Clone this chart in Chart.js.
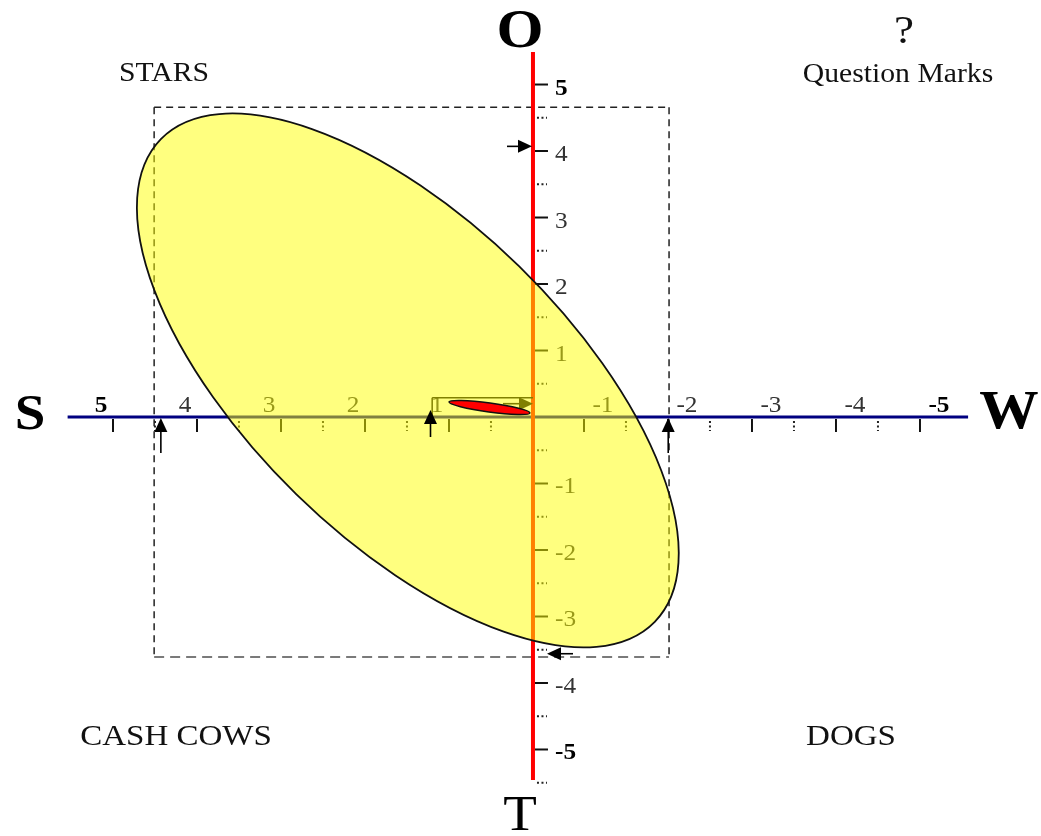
<!DOCTYPE html>
<html><head><meta charset="utf-8">
<script src="https://cdn.jsdelivr.net/npm/chart.js@4"></script>
<style>html,body{margin:0;padding:0;background:#fff;overflow:hidden}canvas{display:block}</style>
</head><body>
<canvas id="c" width="1041" height="836"></canvas>
<script>
// ---- data ----
const xTickValues = [5, 4, 3, 2, 1, -1, -2, -3, -4, -5];
const xTickLabels = ['5', '4', '3', '2', '1', '-1', '-2', '-3', '-4', '-5'];
const xMinorValues = [4.5, 3.5, 2.5, 1.5, 0.5, -1.5, -2.5, -3.5, -4.5];
const yTickValues = [5, 4, 3, 2, 1, -1, -2, -3, -4, -5];
const yTickLabels = ['5', '4', '3', '2', '1', '-1', '-2', '-3', '-4', '-5'];
const yMinorValues = [4.5, 3.5, 2.5, 1.5, 0.5, -0.5, -1.5, -2.5, -3.5, -4.5, -5.5];
const xAxisExtent = [5.54, -5.18];
const yAxisExtent = [5.49, -5.46];
const axisEndLabels = ['O', 'T', 'S', 'W'];
const quadrantLabels = ['STARS', 'Question Marks', 'CASH COWS', 'DOGS'];
const questionMark = '?';
const bigEllipseCenter = [1.49, 0.55];
const bigEllipseMajorEnd = [4.43, 4.18];
const bigEllipseMinorEnd = [0.16, 2.26];
const smallEllipseCenter = [0.518, 0.143];
const smallEllipseMajorEnd = [0.036, 0.06];
const smallEllipseMinorEnd = [0.51, 0.21];
const bigBoxX = [4.51, -1.62];
const bigBoxY = [4.66, -3.61];
const smallBoxX = [1.2, 0];
const smallBoxY = [0.29, 0];
const upArrowX = [4.43, -1.61];
const sideArrowY = [4.07, -3.56];
const smallUpArrowX = [1.22];
const smallSideArrowY = [0.2];

const FONT = '"Liberation Serif", "Times New Roman", serif';

const drawPlugin = {
  id: 'bcg',
  afterDraw(chart) {
    const ctx = chart.ctx;
    const sx = chart.scales.x, sy = chart.scales.y;
    const X = v => sx.getPixelForValue(v);
    const Y = v => sy.getPixelForValue(v);
    const x0 = X(0), y0 = Y(0);
    const negShift = -33; // tick marks on the W side sit left of their labels

    function txt(s, x, y, size, bold, color, align) {
      ctx.save();
      ctx.font = (bold ? 'bold ' : '') + size + 'px ' + FONT;
      ctx.fillStyle = color;
      ctx.textAlign = align || 'center';
      ctx.textBaseline = 'alphabetic';
      ctx.translate(x, y);
      ctx.scale(1.1, 1);
      ctx.fillText(s, 0, 0);
      ctx.restore();
    }
    function line(x1, y1, x2, y2, color, w, dash) {
      ctx.save();
      ctx.beginPath();
      ctx.strokeStyle = color; ctx.lineWidth = w;
      ctx.setLineDash(dash || []);
      ctx.moveTo(x1, y1); ctx.lineTo(x2, y2);
      ctx.stroke();
      ctx.restore();
    }
    function arrow(tx, ty, hx, hy, color) { // tail -> head
      const ang = Math.atan2(hy - ty, hx - tx);
      const hl = 14, hw = 6.5;
      const bx = hx - hl * Math.cos(ang), by = hy - hl * Math.sin(ang);
      line(tx, ty, bx, by, color, 1.6);
      ctx.save();
      ctx.fillStyle = color;
      ctx.beginPath();
      ctx.moveTo(hx, hy);
      ctx.lineTo(bx + hw * Math.sin(ang), by - hw * Math.cos(ang));
      ctx.lineTo(bx - hw * Math.sin(ang), by + hw * Math.cos(ang));
      ctx.closePath();
      ctx.fill();
      ctx.restore();
    }
    function ellipse(c, M, m, fill, stroke, lw) {
      const cx = X(c[0]), cy = Y(c[1]);
      const ax = X(M[0]) - cx, ay = Y(M[1]) - cy;
      const bx = X(m[0]) - cx, by = Y(m[1]) - cy;
      const a = Math.hypot(ax, ay), b = Math.hypot(bx, by);
      const rot = Math.atan2(ay, ax);
      ctx.save();
      ctx.beginPath();
      ctx.ellipse(cx, cy, a, b, rot, 0, Math.PI * 2);
      ctx.fillStyle = fill; ctx.fill();
      ctx.strokeStyle = stroke; ctx.lineWidth = lw; ctx.stroke();
      ctx.restore();
    }

    // dashed confidence box
    const bl = X(bigBoxX[0]), br = X(bigBoxX[1]), bt = Y(bigBoxY[0]), bb = Y(bigBoxY[1]);
    line(bl, bt, br, bt, '#222', 1.5, [7, 5]);
    line(bl, bt, bl, bb, '#222', 1.5, [7, 5]);
    line(br, bt, br, bb, '#222', 1.5, [7, 5]);
    line(bl, bb, br, bb, '#7a7a7a', 2, [10, 6]);

    // axes
    line(X(xAxisExtent[0]), y0, X(xAxisExtent[1]), y0, '#000080', 3);
    line(x0, Y(yAxisExtent[0]), x0, Y(yAxisExtent[1]), '#ff0000', 4);

    // x ticks and labels
    xTickValues.forEach((v, i) => {
      const p = X(v) + (v < 0 ? negShift : 0);
      line(p, y0 + 2, p, y0 + 15, '#111', 2);
      const strong = Math.abs(v) === 5;
      txt(xTickLabels[i], X(v) - (v < 0 ? 14 : 12), y0 - 5, 23, strong, strong ? '#000' : '#333');
    });
    xMinorValues.forEach(v => {
      const p = X(v) + (v < 0 ? negShift : 0);
      line(p, y0 + 4, p, y0 + 14, '#222', 2, [2, 2.5]);
    });
    // y ticks and labels
    yTickValues.forEach((v, i) => {
      const p = Y(v);
      line(x0 + 2, p, x0 + 15, p, '#111', 2);
      const strong = Math.abs(v) === 5;
      txt(yTickLabels[i], x0 + 22, p + 10, 23, strong, strong ? '#000' : '#333', 'left');
    });
    yMinorValues.forEach(v => {
      const p = Y(v);
      line(x0 + 4, p, x0 + 14, p, '#222', 2, [2, 2.5]);
    });

    // small box (under the yellow overlay)
    const sl = X(smallBoxX[0]), sr = X(smallBoxX[1]), st = Y(smallBoxY[0]);
    line(sl, st, sr, st, '#000', 1.5);
    line(sl, st, sl, y0, '#000', 1.5);
    smallSideArrowY.forEach(v => arrow(x0 - 30, Y(v), x0, Y(v), '#000'));

    // arrows on the axes
    upArrowX.forEach(v => arrow(X(v), y0 + 36, X(v), y0 + 1, '#000'));
    arrow(x0 - 26, Y(sideArrowY[0]), x0 - 1, Y(sideArrowY[0]), '#000');
    arrow(x0 + 40, Y(sideArrowY[1]), x0 + 14, Y(sideArrowY[1]), '#000');

    // big yellow ellipse
    ellipse(bigEllipseCenter, bigEllipseMajorEnd, bigEllipseMinorEnd, 'rgba(255,255,0,0.5)', '#111', 1.8);
    // small red ellipse
    ellipse(smallEllipseCenter, smallEllipseMajorEnd, smallEllipseMinorEnd, '#ff0000', '#111', 1.5);
    smallUpArrowX.forEach(v => arrow(X(v), y0 + 20, X(v), y0 - 7, '#000'));

    // axis end letters
    txt(axisEndLabels[0], 520, 47, 55, true, '#000');
    txt(axisEndLabels[1], 520, 830, 50, false, '#000');
    txt(axisEndLabels[2], 30, 429, 50, true, '#000');
    txt(axisEndLabels[3], 1009, 428, 54, true, '#000');

    // quadrant labels
    txt(questionMark, 904, 43, 41, false, '#111');
    txt(quadrantLabels[0], 164, 81, 27, false, '#111');
    txt(quadrantLabels[1], 898, 82, 27, false, '#111');
    txt(quadrantLabels[2], 176, 745, 30, false, '#111');
    txt(quadrantLabels[3], 851, 745, 30, false, '#111');
  }
};

const chart = new Chart(document.getElementById('c'), {
  type: 'scatter',
  data: { datasets: [] },
  options: {
    responsive: false,
    animation: false,
    events: [],
    layout: { padding: 0 },
    plugins: { legend: { display: false }, tooltip: { enabled: false }, title: { display: false } },
    scales: {
      x: { type: 'linear', min: -6.048, max: 6.345, reverse: true, display: false },
      y: { type: 'linear', min: -6.301, max: 6.271, display: false }
    }
  },
  plugins: [drawPlugin]
});
</script>
</body></html>
